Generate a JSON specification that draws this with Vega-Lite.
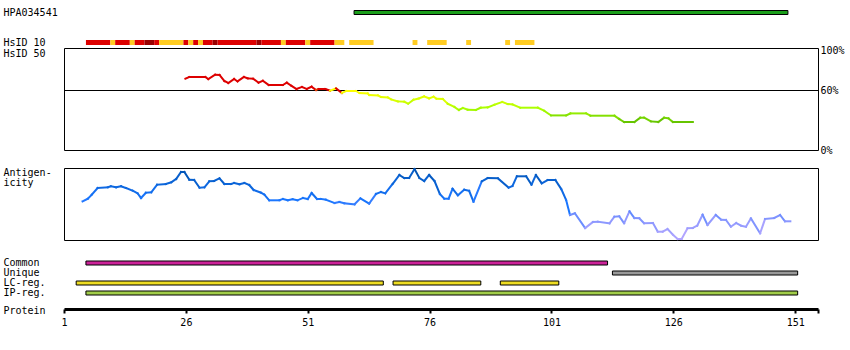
{
  "$schema": "https://vega.github.io/schema/vega-lite/v6.json",
  "padding": {"left": 2, "top": 0, "right": 4, "bottom": 4},
  "background": "white",
  "bounds": "flush",
  "spacing": 0,
  "config": {
    "view": {"stroke": null},
    "font": "DejaVu Sans Mono",
    "axis": {
      "labelFont": "DejaVu Sans Mono", "labelFontSize": 10, "labelColor": "black",
      "titleFont": "DejaVu Sans Mono", "titleFontSize": 10, "titleFontWeight": "normal", "titleColor": "black",
      "grid": false
    }
  },
  "resolve": {"scale": {"x": "independent", "y": "independent", "color": "independent"}},
  "datasets": {
    "hpa": [{"track": "HPA034541", "start": 60.5, "end": 149.5}],
    "hsid10": [
      {"track": "HsID 10", "start": 5.5, "end": 10.5, "level": "high"},
      {"track": "HsID 10", "start": 10.5, "end": 11.5, "level": "mid"},
      {"track": "HsID 10", "start": 11.5, "end": 14.5, "level": "high"},
      {"track": "HsID 10", "start": 14.5, "end": 15.5, "level": "mid"},
      {"track": "HsID 10", "start": 15.5, "end": 17.5, "level": "high"},
      {"track": "HsID 10", "start": 17.5, "end": 19.5, "level": "max"},
      {"track": "HsID 10", "start": 19.5, "end": 20.5, "level": "high"},
      {"track": "HsID 10", "start": 20.5, "end": 25.5, "level": "mid"},
      {"track": "HsID 10", "start": 25.5, "end": 26.5, "level": "high"},
      {"track": "HsID 10", "start": 26.5, "end": 27.5, "level": "mid"},
      {"track": "HsID 10", "start": 27.5, "end": 28.5, "level": "high"},
      {"track": "HsID 10", "start": 28.5, "end": 29.5, "level": "mid"},
      {"track": "HsID 10", "start": 29.5, "end": 31.5, "level": "high"},
      {"track": "HsID 10", "start": 31.5, "end": 32.5, "level": "max"},
      {"track": "HsID 10", "start": 32.5, "end": 40.5, "level": "high"},
      {"track": "HsID 10", "start": 40.5, "end": 41.5, "level": "max"},
      {"track": "HsID 10", "start": 41.5, "end": 45.5, "level": "high"},
      {"track": "HsID 10", "start": 45.5, "end": 46.5, "level": "mid"},
      {"track": "HsID 10", "start": 46.5, "end": 50.5, "level": "high"},
      {"track": "HsID 10", "start": 50.5, "end": 51.5, "level": "mid"},
      {"track": "HsID 10", "start": 51.5, "end": 56.5, "level": "high"},
      {"track": "HsID 10", "start": 56.5, "end": 58.5, "level": "mid"},
      {"track": "HsID 10", "start": 59.5, "end": 64.5, "level": "mid"},
      {"track": "HsID 10", "start": 72.5, "end": 73.5, "level": "mid"},
      {"track": "HsID 10", "start": 75.5, "end": 79.5, "level": "mid"},
      {"track": "HsID 10", "start": 83.5, "end": 84.5, "level": "mid"},
      {"track": "HsID 10", "start": 91.5, "end": 92.5, "level": "mid"},
      {"track": "HsID 10", "start": 93.5, "end": 97.5, "level": "mid"}
    ],
    "hsid50": [
      {"r": 25.9, "v": 71.3}, {"r": 26.7, "v": 73}, {"r": 30.0, "v": 73}, {"r": 30.6, "v": 71},
      {"r": 32.0, "v": 75.3}, {"r": 32.9, "v": 75}, {"r": 33.9, "v": 69}, {"r": 34.7, "v": 67},
      {"r": 35.9, "v": 71}, {"r": 36.6, "v": 68.6}, {"r": 37.9, "v": 73}, {"r": 38.7, "v": 71.6},
      {"r": 39.8, "v": 71.3}, {"r": 40.9, "v": 67.3}, {"r": 41.8, "v": 69.3}, {"r": 43.0, "v": 65},
      {"r": 45.9, "v": 65}, {"r": 46.7, "v": 67.3}, {"r": 47.6, "v": 64.3}, {"r": 48.7, "v": 61},
      {"r": 49.8, "v": 63}, {"r": 50.8, "v": 61}, {"r": 51.8, "v": 63.3}, {"r": 52.7, "v": 60},
      {"r": 53.2, "v": 61}, {"r": 54.6, "v": 61}, {"r": 55.6, "v": 59.3}, {"r": 56.8, "v": 61.6},
      {"r": 58.0, "v": 57}, {"r": 58.9, "v": 59}, {"r": 60.9, "v": 59}, {"r": 61.6, "v": 57},
      {"r": 63.3, "v": 56.6}, {"r": 63.6, "v": 55}, {"r": 65.4, "v": 54.6}, {"r": 66.0, "v": 53},
      {"r": 67.4, "v": 52.6}, {"r": 68.1, "v": 50.6}, {"r": 69.5, "v": 48.6}, {"r": 70.8, "v": 48.3},
      {"r": 71.6, "v": 46.3}, {"r": 72.7, "v": 50.3}, {"r": 73.8, "v": 51.6}, {"r": 74.9, "v": 53.6},
      {"r": 75.9, "v": 51.6}, {"r": 76.8, "v": 53.3}, {"r": 77.4, "v": 51.3}, {"r": 78.7, "v": 51},
      {"r": 79.7, "v": 46.3}, {"r": 81.1, "v": 43}, {"r": 82.0, "v": 40}, {"r": 82.8, "v": 42},
      {"r": 83.8, "v": 40.3}, {"r": 85.5, "v": 40}, {"r": 86.5, "v": 42.3}, {"r": 87.9, "v": 42.6},
      {"r": 89.3, "v": 45.3}, {"r": 90.9, "v": 48}, {"r": 92.0, "v": 46}, {"r": 93.0, "v": 45.6},
      {"r": 94.6, "v": 42.3}, {"r": 98.2, "v": 42.3}, {"r": 99.5, "v": 39.3}, {"r": 100.9, "v": 34.6},
      {"r": 104.0, "v": 34.6}, {"r": 104.9, "v": 36.6}, {"r": 108.1, "v": 36.6}, {"r": 109.0, "v": 34.3},
      {"r": 113.9, "v": 34.3}, {"r": 114.9, "v": 31}, {"r": 115.9, "v": 28}, {"r": 118.0, "v": 28},
      {"r": 119.2, "v": 32.3}, {"r": 120.0, "v": 32.3}, {"r": 121.4, "v": 28.6}, {"r": 122.9, "v": 28},
      {"r": 124.1, "v": 32.3}, {"r": 125.0, "v": 31.6}, {"r": 125.9, "v": 28}, {"r": 130.0, "v": 28}
    ],
    "antigen": [
      {"r": 4.8, "a": 38.7}, {"r": 5.9, "a": 41.3}, {"r": 6.7, "a": 45.3}, {"r": 7.9, "a": 52},
      {"r": 10.0, "a": 52.7}, {"r": 10.6, "a": 53.7}, {"r": 11.7, "a": 52.7}, {"r": 12.7, "a": 53.7},
      {"r": 13.7, "a": 52}, {"r": 15.1, "a": 49.3}, {"r": 16.1, "a": 46.7}, {"r": 16.8, "a": 42},
      {"r": 17.8, "a": 47.3}, {"r": 18.9, "a": 47.7}, {"r": 20.1, "a": 55.3}, {"r": 21.9, "a": 56},
      {"r": 23.0, "a": 57.7}, {"r": 24.0, "a": 61}, {"r": 25.0, "a": 68}, {"r": 25.7, "a": 68},
      {"r": 26.7, "a": 60.3}, {"r": 27.7, "a": 60}, {"r": 28.8, "a": 52.3}, {"r": 29.8, "a": 52.7},
      {"r": 30.8, "a": 58.7}, {"r": 31.8, "a": 59}, {"r": 32.9, "a": 61.7}, {"r": 33.9, "a": 56},
      {"r": 35.3, "a": 56}, {"r": 35.9, "a": 57}, {"r": 37.0, "a": 55.7}, {"r": 38.0, "a": 57},
      {"r": 39.0, "a": 55}, {"r": 39.9, "a": 50}, {"r": 41.4, "a": 47.3}, {"r": 42.1, "a": 45.3},
      {"r": 43.1, "a": 39.7}, {"r": 45.2, "a": 39.7}, {"r": 45.9, "a": 41}, {"r": 46.9, "a": 39.7},
      {"r": 47.9, "a": 40.7}, {"r": 48.9, "a": 39.7}, {"r": 50.0, "a": 42}, {"r": 51.0, "a": 41},
      {"r": 51.8, "a": 47}, {"r": 52.9, "a": 41}, {"r": 53.7, "a": 41}, {"r": 54.7, "a": 40.3},
      {"r": 56.5, "a": 37}, {"r": 57.5, "a": 38}, {"r": 58.5, "a": 36.7}, {"r": 60.6, "a": 35.7},
      {"r": 61.8, "a": 41.7}, {"r": 63.6, "a": 36.3}, {"r": 65.0, "a": 46}, {"r": 66.0, "a": 48},
      {"r": 66.9, "a": 46.7}, {"r": 68.4, "a": 56}, {"r": 69.8, "a": 65}, {"r": 70.8, "a": 62},
      {"r": 71.8, "a": 62}, {"r": 72.9, "a": 71}, {"r": 73.9, "a": 62}, {"r": 74.9, "a": 59},
      {"r": 75.9, "a": 65}, {"r": 77.0, "a": 59}, {"r": 78.1, "a": 46}, {"r": 79.0, "a": 41.3},
      {"r": 79.9, "a": 41.3}, {"r": 80.7, "a": 51.3}, {"r": 81.8, "a": 44.7}, {"r": 83.1, "a": 50.3},
      {"r": 84.1, "a": 49.3}, {"r": 85.0, "a": 38.3}, {"r": 86.7, "a": 58.7}, {"r": 87.9, "a": 62},
      {"r": 90.0, "a": 61.7}, {"r": 92.2, "a": 52.3}, {"r": 93.0, "a": 54}, {"r": 93.9, "a": 63.7},
      {"r": 95.8, "a": 63.7}, {"r": 96.9, "a": 55.3}, {"r": 97.8, "a": 65}, {"r": 99.0, "a": 56.7},
      {"r": 100.2, "a": 60}, {"r": 101.8, "a": 60}, {"r": 103.0, "a": 51}, {"r": 104.0, "a": 40},
      {"r": 104.8, "a": 25}, {"r": 105.8, "a": 26.7}, {"r": 107.9, "a": 12}, {"r": 109.5, "a": 18},
      {"r": 110.5, "a": 18.3}, {"r": 112.9, "a": 16.7}, {"r": 113.9, "a": 23.3}, {"r": 114.9, "a": 23.7},
      {"r": 115.9, "a": 16.7}, {"r": 117.0, "a": 28.7}, {"r": 118.0, "a": 22}, {"r": 119.0, "a": 21.7},
      {"r": 120.0, "a": 16.7}, {"r": 121.8, "a": 17}, {"r": 122.8, "a": 8.3}, {"r": 123.8, "a": 8.3},
      {"r": 124.8, "a": 11}, {"r": 125.9, "a": 5.3}, {"r": 126.9, "a": 1}, {"r": 127.7, "a": 1},
      {"r": 128.9, "a": 11.7}, {"r": 130.0, "a": 12}, {"r": 130.9, "a": 14.3}, {"r": 132.0, "a": 25.3},
      {"r": 133.0, "a": 15}, {"r": 134.7, "a": 25}, {"r": 135.8, "a": 20.3}, {"r": 136.8, "a": 20},
      {"r": 137.8, "a": 13.3}, {"r": 138.9, "a": 17}, {"r": 139.9, "a": 14.3}, {"r": 140.9, "a": 13.3},
      {"r": 141.9, "a": 21.7}, {"r": 143.8, "a": 6.7}, {"r": 144.8, "a": 21}, {"r": 146.7, "a": 22},
      {"r": 147.9, "a": 25}, {"r": 148.9, "a": 18.7}, {"r": 150.0, "a": 18.7}
    ],
    "lanes": [
      {"lane": "Common", "start": 5.5, "end": 112.5},
      {"lane": "Unique", "start": 113.5, "end": 151.5},
      {"lane": "LC-reg.", "start": 3.5, "end": 66.5},
      {"lane": "LC-reg.", "start": 68.5, "end": 86.5},
      {"lane": "LC-reg.", "start": 90.5, "end": 102.5},
      {"lane": "IP-reg.", "start": 5.5, "end": 151.5}
    ],
    "threshold": [{"level": 60}]
  },
  "vconcat": [
    {
      "width": 754, "height": 25,
      "data": {"name": "hpa"},
      "mark": {"type": "bar", "height": 4, "color": "#1a9e1a", "stroke": "black", "strokeWidth": 1},
      "encoding": {
        "x": {"field": "start", "type": "quantitative", "scale": {"domain": [1, 155.67], "nice": false, "zero": false}, "axis": null},
        "x2": {"field": "end"},
        "y": {"field": "track", "type": "nominal", "scale": {"paddingInner": 0, "paddingOuter": 0},
              "axis": {"title": null, "domain": false, "ticks": false, "tickSize": 0, "labelAlign": "left", "labelPadding": 61, "labelBaseline": "middle"}}
      }
    },
    {
      "width": 754, "height": 23,
      "data": {"name": "hsid10"},
      "mark": {"type": "bar", "height": 5, "yOffset": 6},
      "encoding": {
        "x": {"field": "start", "type": "quantitative", "scale": {"domain": [1, 155.67], "nice": false, "zero": false}, "axis": null},
        "x2": {"field": "end"},
        "y": {"field": "track", "type": "nominal", "scale": {"paddingInner": 0, "paddingOuter": 0},
              "axis": {"title": null, "domain": false, "ticks": false, "tickSize": 0, "labelAlign": "left", "labelPadding": 61, "labelBaseline": "middle", "labelOffset": 6}},
        "color": {"field": "level", "type": "nominal", "scale": {"domain": ["max", "high", "mid"], "range": ["#990000", "#dd0000", "#ffcc22"]}, "legend": null}
      }
    },
    {
      "width": 754, "height": 102,
      "view": {"stroke": "black", "strokeWidth": 1},
      "layer": [
        {
          "data": {"name": "threshold"},
          "mark": {"type": "rule", "color": "black", "strokeWidth": 1, "yOffset": 0.5},
          "encoding": {
            "y": {"field": "level", "type": "quantitative", "scale": {"domain": [0, 102], "nice": false, "zero": true},
                  "axis": {"orient": "right", "values": [0, 60, 100], "labelExpr": "datum.value + '%'", "domain": false, "ticks": false, "tickSize": 0, "labelPadding": 2, "labelAlign": "left", "labelBaseline": "middle", "labelOverlap": false, "labelFlush": false,
                           "title": "HsID 50", "titleAngle": 0, "titleAlign": "left", "titleBaseline": "alphabetic", "titleX": -815, "titleY": 8}}
          }
        },
        {
          "data": {"name": "hsid50"},
          "transform": [
            {"window": [{"op": "lead", "field": "r", "as": "r2"}, {"op": "lead", "field": "v", "as": "v2"}], "sort": [{"field": "r", "order": "ascending"}]},
            {"filter": "datum.r2 != null"}
          ],
          "mark": {"type": "rule", "strokeWidth": 2, "strokeCap": "square"},
          "encoding": {
            "x": {"field": "r", "type": "quantitative", "scale": {"domain": [1, 155.67], "nice": false, "zero": false}, "axis": null},
            "x2": {"field": "r2"},
            "y": {"field": "v", "type": "quantitative", "scale": {"domain": [0, 102], "nice": false, "zero": true},
                  "axis": {"orient": "right", "values": [0, 60, 100], "labelExpr": "datum.value + '%'", "domain": false, "ticks": false, "tickSize": 0, "labelPadding": 2, "labelAlign": "left", "labelBaseline": "middle", "labelOverlap": false, "labelFlush": false,
                           "title": "HsID 50", "titleAngle": 0, "titleAlign": "left", "titleBaseline": "alphabetic", "titleX": -815, "titleY": 8}},
            "y2": {"field": "v2"},
            "color": {"field": "v", "type": "quantitative", "legend": null,
                      "scale": {"domain": [28, 33, 36, 42, 48, 55, 59.5, 60.2, 100], "range": ["#66c400", "#77d800", "#92ea00", "#aaff00", "#ccff00", "#eeff00", "#ffff00", "#dd0000", "#dd0000"], "interpolate": "rgb"}}
          }
        }
      ]
    },
    {
      "width": 754, "height": 18,
      "data": {"values": []},
      "mark": "point"
    },
    {
      "width": 754, "height": 72,
      "view": {"stroke": "black", "strokeWidth": 1},
      "data": {"name": "antigen"},
      "transform": [
        {"window": [{"op": "lead", "field": "r", "as": "r2"}, {"op": "lead", "field": "a", "as": "a2"}], "sort": [{"field": "r", "order": "ascending"}]},
        {"filter": "datum.r2 != null"}
      ],
      "mark": {"type": "rule", "strokeWidth": 2, "strokeCap": "square"},
      "encoding": {
        "x": {"field": "r", "type": "quantitative", "scale": {"domain": [1, 155.67], "nice": false, "zero": false}, "axis": null},
        "x2": {"field": "r2"},
        "y": {"field": "a", "type": "quantitative", "scale": {"domain": [0, 72], "nice": false, "zero": true},
              "axis": {"orient": "left", "labels": false, "domain": false, "ticks": false, "tickSize": 0,
                       "title": ["Antigen-", "icity"], "titleAngle": 0, "titleAlign": "left", "titleBaseline": "alphabetic", "titleX": -61, "titleY": 7.5, "titleLineHeight": 9.5}},
        "y2": {"field": "a2"},
        "color": {"field": "a", "type": "quantitative", "legend": null,
                  "scale": {"domain": [0, 10, 20, 30, 40, 55, 72], "range": ["#b4a6ff", "#a2a0ff", "#8896ff", "#5c88ff", "#1a76ff", "#0c66dc", "#0052b0"], "interpolate": "rgb"}}
      }
    },
    {
      "width": 754, "height": 18,
      "data": {"values": []},
      "mark": "point"
    },
    {
      "width": 754, "height": 40,
      "data": {"name": "lanes"},
      "mark": {"type": "bar", "height": 4, "stroke": "black", "strokeWidth": 1},
      "encoding": {
        "x": {"field": "start", "type": "quantitative", "scale": {"domain": [1, 155.67], "nice": false, "zero": false},
              "axis": {"orient": "bottom", "offset": 11, "values": [1, 26, 51, 76, 101, 126, 151, 155.67], "labelExpr": "datum.value > 152 ? '' : datum.label",
                       "domainWidth": 3, "domainColor": "black", "tickColor": "black", "tickWidth": 2, "tickSize": 4, "labelPadding": 4, "labelBaseline": "top", "labelFlush": false, "labelOverlap": false,
                       "title": "Protein", "titleAngle": 0, "titleAlign": "left", "titleBaseline": "alphabetic", "titleX": -61, "titleY": 4.5}},
        "x2": {"field": "end"},
        "y": {"field": "lane", "type": "nominal", "sort": ["Common", "Unique", "LC-reg.", "IP-reg."], "scale": {"paddingInner": 0, "paddingOuter": 0},
              "axis": {"title": null, "domain": false, "ticks": false, "tickSize": 0, "labelAlign": "left", "labelPadding": 61, "labelBaseline": "middle"}},
        "color": {"field": "lane", "type": "nominal", "legend": null,
                  "scale": {"domain": ["Common", "Unique", "LC-reg.", "IP-reg."], "range": ["#cc2299", "#999999", "#eedd22", "#a0cc48"]}}
      }
    }
  ]
}
